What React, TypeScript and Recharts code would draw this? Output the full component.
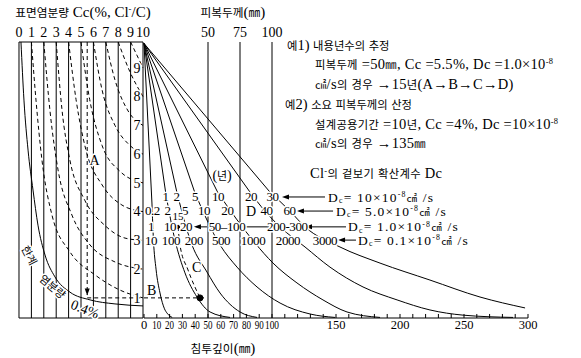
import React from "react";
import { ComposedChart, Line, XAxis, YAxis, ReferenceLine, ReferenceDot } from "recharts";

type Pair = [number, number];

// top scale of the left panel: surface chloride Cc (%)
const ccTicks = [0, 1, 2, 3, 4, 5, 6, 7, 8, 9, 10];
// scale along the right edge of the left panel
const levelTicks = [1, 2, 3, 4, 5, 6, 7, 8, 9];
// cover thickness (mm), drawn as full-height lines
const coverTicks = [50, 75, 100];
// penetration depth axis (mm)
const depthTicks = [
  0, 10, 20, 30, 40, 50, 60, 70, 80, 90, 100, 110, 120, 130, 140, 150, 160, 170, 180, 190, 200, 210,
  220, 230, 240, 250, 260, 270, 280, 290, 300,
];
const depthLabels = [0, 10, 20, 30, 40, 50, 60, 70, 80, 90, 100, 150, 200, 250, 300];

// 한계 염분량 0.4% curve (Cc, level)
const limitCurve: Pair[] = [
  [0.16, 9.9], [0.4, 7.88], [0.73, 6.14], [1.13, 4.75], [1.53, 3.53], [2.1, 2.49],
  [2.9, 1.73], [4.11, 1.2], [5.73, 0.93], [7.74, 0.79], [10, 0.72],
];

// dashed curves from each Cc on top to the same value on the right scale
const ccCurve1: Pair[] = [[1, 9.9], [1.37, 7.88], [1.85, 5.8], [2.66, 3.88], [4.11, 2.6], [6.13, 1.8], [8.15, 1.27], [10, 1]];
const ccCurve2: Pair[] = [[2, 9.9], [2.5, 7.5], [3.15, 5.45], [4.27, 3.88], [5.73, 2.84], [7.74, 2.25], [10, 2]];
const ccCurve3: Pair[] = [[3, 9.9], [3.47, 7.53], [4.1, 5.8], [5.3, 4.4], [6.9, 3.53], [8.55, 3.08], [10, 3]];
const ccCurve4: Pair[] = [[4, 9.9], [4.6, 7.9], [5.4, 6.14], [6.7, 4.93], [8.3, 4.23], [10, 4]];
const ccCurve5: Pair[] = [[5, 9.9], [5.7, 7.9], [6.7, 6.3], [8.15, 5.4], [10, 5]];
const ccCurve6: Pair[] = [[6, 9.9], [6.7, 8.23], [7.74, 7.0], [8.95, 6.3], [10, 6]];
const ccCurve7: Pair[] = [[7, 9.9], [7.74, 8.58], [8.8, 7.5], [10, 7]];
const ccCurve8: Pair[] = [[8, 9.9], [8.95, 8.86], [10, 8]];
const ccCurve9: Pair[] = [[9, 9.9], [10, 9]];
const ccCurves = [ccCurve1, ccCurve2, ccCurve3, ccCurve4, ccCurve5, ccCurve6, ccCurve7, ccCurve8, ccCurve9];

// depth profiles start from the pivot at Cc = 10 (depth mm, level)
const pivot: Pair = [0, 9.85];
const profile1: Pair[] = [[6.2, 4.3], [7.4, 3.0], [9.4, 2.0], [12.5, 1.17], [16, 0.62], [18, 0.47], [22, 0.32]];
const profile10: Pair[] = [[17.2, 4.58], [24.2, 3.01], [32, 1.87], [41.4, 1.03], [51.6, 0.51], [67.2, 0.32]];
const profile20: Pair[] = [[25.8, 4.65], [37.5, 2.84], [49.2, 1.9], [59.4, 1.17], [75, 0.51], [88.3, 0.32]];
const profile50: Pair[] = [[39.8, 4.65], [59.4, 2.84], [72.7, 2.07], [88.3, 1.38], [106.3, 0.82], [129.7, 0.44], [149.2, 0.32]];
const profile100: Pair[] = [[57.8, 4.65], [86.7, 2.91], [100.8, 2.21], [119.5, 1.52], [139.8, 0.93], [158.6, 0.51], [184.4, 0.32]];
const profile200: Pair[] = [
  [82.8, 4.68], [94.5, 4.02], [106.3, 3.47], [125.8, 2.77], [145.3, 2.07], [171.1, 1.38],
  [197.7, 0.93], [223.4, 0.58], [249.2, 0.4], [288.3, 0.32],
];
const profile300: Pair[] = [
  [98.4, 4.68], [114, 4.02], [125.8, 3.47], [153.1, 2.77], [184.4, 2.21], [223.4, 1.62], [262.5, 1.03], [297.7, 0.65],
];
const profiles = [profile1, profile10, profile20, profile50, profile100, profile200, profile300];
// example: 15 years at Dc = 1.0
const profile15: Pair[] = [[26.6, 3.47], [28.1, 2.84], [34.4, 1.97], [43.75, 1.0]];

// year labels on the four Dc rows (label, depth)
const rowLevels = [4.51, 4.02, 3.47, 3.01];
const yearsDc10: [string, number][] = [["1", 16.8], ["2", 25.4], ["5", 39.8], ["10", 57.8], ["20", 83.6], ["30", 100.4]];
const yearsDc5: [string, number][] = [["0.2", 6.6], ["2", 18.4], ["5", 32], ["10", 46.9], ["20", 65.2], ["40", 95.7], ["60", 113.7]];
const yearsDc1: [string, number][] = [["1", 5.5], ["10", 20.3], ["20", 32.8], ["50–100", 64.8], ["200-300", 112]];
const yearsDc01: [string, number][] = [["10", 5.5], ["100", 21.1], ["200", 39], ["500", 60.2], ["1000", 85.2], ["2000", 112.5], ["3000", 141.4]];
const yearRows = [yearsDc10, yearsDc5, yearsDc1, yearsDc01];
const dcLabels = ["D_{c}= 10×10^{-8}㎠ /s", "D_{c}= 5.0×10^{-8}㎠ /s", "D_{c}= 1.0×10^{-8}㎠ /s", "D_{c}= 0.1×10^{-8}㎠ /s"];
const dcLabelDepth = [143.75, 150, 159.4, 167.2];
const dcArrows: Pair[] = [[141.4, 107.8], [147.7, 119.5], [157.8, 125.8], [165.6, 151.6]];

// worked example A -> B -> C
const exampleCc = 5.5;
const exampleLevel = 1;
const exampleDepth = 43.75;

// axis frame values
const levelBottom = 0.3;
const levelTop = 9.9;

const FONT = "'Liberation Serif', 'Noto Sans CJK KR', serif";
const HANGUL = /([\u3130-\u318F\uAC00-\uD7A3\u3380-\u33FF]+)/;
const MARK = /(\^\{[^}]*\}|_\{[^}]*\})/;

const toPts = (a: Pair[]) => a.map(([x, y]) => ({ x, y }));

// splits text into tspans: hangul a bit smaller, ^{..} superscript, _{..} subscript
function richText(str: string, fs: number) {
  const out: React.ReactNode[] = [];
  let shift = 0;
  let k = 0;
  for (const part of str.split(MARK)) {
    if (!part) continue;
    const m = part.match(/^([\^_])\{([^}]*)\}$/);
    if (m) {
      const target = m[1] === "^" ? -fs * 0.36 : fs * 0.12;
      out.push(
        <tspan key={k++} dy={target - shift} fontSize={fs * 0.58}>
          {m[2]}
        </tspan>
      );
      shift = target;
      continue;
    }
    for (const run of part.split(HANGUL)) {
      if (!run) continue;
      const ko = HANGUL.test(run);
      out.push(
        <tspan key={k++} dy={-shift} fontSize={ko ? fs * 0.78 : fs}>
          {run}
        </tspan>
      );
      shift = 0;
    }
  }
  return out;
}

type TextOpts = {
  size?: number;
  anchor?: "start" | "middle" | "end";
  rotate?: number;
  halo?: boolean;
  spacing?: number;
  len?: number;
};

function textMark(key: string, axis: "d" | "cc", x: number, y: number, str: string, o: TextOpts = {}) {
  const fs = o.size ?? 14;
  return (
    <ReferenceDot
      key={key}
      xAxisId={axis}
      x={x}
      y={y}
      r={0}
      ifOverflow="visible"
      isFront
      shape={(p: any) => (
        <text
          x={p.cx}
          y={p.cy + fs * 0.34}
          textAnchor={o.anchor ?? "middle"}
          fontFamily={FONT}
          fontSize={fs}
          fill="#000"
          letterSpacing={o.spacing}
          textLength={o.len}
          lengthAdjust={o.len ? "spacingAndGlyphs" : undefined}
          stroke={o.halo ? "#fff" : undefined}
          strokeWidth={o.halo ? 3 : undefined}
          strokeLinejoin="round"
          style={{ whiteSpace: "pre", paintOrder: "stroke" }}
          transform={o.rotate ? `rotate(${o.rotate} ${p.cx} ${p.cy})` : undefined}
        >
          {richText(str, fs)}
        </text>
      )}
    />
  );
}

function arrowHead(key: string, axis: "d" | "cc", x: number, y: number, dir: "left" | "down") {
  return (
    <ReferenceDot
      key={key}
      xAxisId={axis}
      x={x}
      y={y}
      r={0}
      ifOverflow="visible"
      isFront
      shape={(p: any) =>
        dir === "left" ? (
          <polygon points={`${p.cx},${p.cy} ${p.cx + 7},${p.cy - 2.5} ${p.cx + 7},${p.cy + 2.5}`} fill="#000" />
        ) : (
          <polygon points={`${p.cx},${p.cy} ${p.cx - 2.5},${p.cy - 7} ${p.cx + 2.5},${p.cy - 7}`} fill="#000" />
        )
      }
    />
  );
}

const lineProps = {
  stroke: "#000",
  strokeWidth: 1,
  dot: false,
  activeDot: false,
  isAnimationActive: false,
  dataKey: "y",
} as const;

const depthLabelLength = (t: number) => (t > 0 && t < 100 ? 9 : t === 100 ? 14 : undefined);

export default function App() {
  return (
    <div style={{ position: "absolute", left: 0, top: 0, width: 581, height: 358, background: "#fff" }}>
      <ComposedChart width={581} height={358} margin={{ top: 0, right: 0, bottom: 0, left: 0 }}>
        {/* axes span the whole drawing; the frame is drawn with reference lines */}
        <XAxis xAxisId="d" type="number" dataKey="x" domain={[-112.5, 341.4]} hide />
        <XAxis xAxisId="cc" type="number" dataKey="x" domain={[-1.532, 45.32]} hide />
        <YAxis type="number" domain={[-1.091, 11.361]} hide />

        {/* left panel frame and Cc verticals */}
        {ccTicks.map((c) => (
          <ReferenceLine
            key={`v${c}`}
            xAxisId="cc"
            segment={[{ x: c, y: levelBottom }, { x: c, y: levelTop }]}
            stroke="#000"
          />
        ))}
        <ReferenceLine xAxisId="cc" segment={[{ x: 0, y: levelTop }, { x: 10, y: levelTop }]} stroke="#000" />
        <ReferenceLine xAxisId="cc" segment={[{ x: 0, y: levelBottom }, { x: 10, y: levelBottom }]} stroke="#000" />
        {coverTicks.map((c) => (
          <ReferenceLine
            key={`cv${c}`}
            xAxisId="d"
            segment={[{ x: c, y: levelBottom }, { x: c, y: levelTop }]}
            stroke="#000"
          />
        ))}

        {/* depth axis */}
        <ReferenceLine xAxisId="d" segment={[{ x: 0, y: levelBottom }, { x: 300, y: levelBottom }]} stroke="#000" />
        {depthTicks.map((t) => (
          <ReferenceLine
            key={`dt${t}`}
            xAxisId="d"
            segment={[{ x: t, y: levelBottom }, { x: t, y: levelBottom + 0.14 }]}
            stroke="#000"
          />
        ))}

        <Line xAxisId="cc" data={toPts(limitCurve)} type="monotoneX" {...lineProps} />
        {ccCurves.map((c, i) => (
          <Line key={`cc${i}`} xAxisId="cc" data={toPts(c)} type="monotoneX" strokeDasharray="4 3" {...lineProps} />
        ))}

        {profiles.map((p, i) => (
          <Line key={`fan${i}`} xAxisId="d" data={toPts([pivot, p[0]])} type="linear" {...lineProps} />
        ))}
        {profiles.map((p, i) => (
          <Line key={`pr${i}`} xAxisId="d" data={toPts(p)} type="monotoneX" {...lineProps} />
        ))}
        <Line xAxisId="d" data={toPts(profile15)} type="monotoneX" strokeDasharray="4 3" {...lineProps} />

        {/* worked example path */}
        <ReferenceLine
          xAxisId="cc"
          segment={[{ x: exampleCc, y: levelTop }, { x: exampleCc, y: exampleLevel + 0.1 }]}
          stroke="#000"
          strokeDasharray="4 3"
        />
        <ReferenceLine
          xAxisId="cc"
          segment={[{ x: exampleCc, y: exampleLevel }, { x: 10, y: exampleLevel }]}
          stroke="#000"
          strokeDasharray="4 3"
        />
        <ReferenceLine
          xAxisId="d"
          segment={[{ x: 0, y: exampleLevel }, { x: 49, y: exampleLevel }]}
          stroke="#000"
          strokeDasharray="4 3"
        />
        {arrowHead("ad", "cc", exampleCc, exampleLevel + 0.08, "down")}
        <ReferenceDot xAxisId="d" x={exampleDepth} y={exampleLevel} r={3} fill="#000" stroke="#000" isFront />
        <ReferenceDot xAxisId="d" x={26.6} y={3.47} r={1.6} fill="#000" stroke="#000" isFront />

        {/* row arrows and connectors */}
        {dcArrows.map(([from, to], i) => (
          <ReferenceLine
            key={`ar${i}`}
            xAxisId="d"
            segment={[{ x: from, y: rowLevels[i] }, { x: to + 3, y: rowLevels[i] }]}
            stroke="#000"
          />
        ))}
        {dcArrows.map(([, to], i) => arrowHead(`ah${i}`, "d", to, rowLevels[i], "left"))}
        <ReferenceLine xAxisId="d" segment={[{ x: 49.2, y: rowLevels[2] }, { x: 41, y: rowLevels[2] }]} stroke="#000" />
        {arrowHead("ah20", "d", 39, rowLevels[2], "left")}
        <ReferenceLine xAxisId="d" segment={[{ x: 79.7, y: rowLevels[2] }, { x: 97.7, y: rowLevels[2] }]} stroke="#000" />

        {/* text */}
        {textMark("t1", "cc", 5.16, 10.94, "표면염분량 Cc(%, Cl^{-}/C)", { size: 15 })}
        {textMark("t2", "d", 69.5, 10.94, "피복두께(㎜)", { size: 15 })}
        {textMark("t3", "d", 61.7, -0.74, "침투깊이(㎜)", { size: 15 })}
        {ccTicks.map((c) => textMark(`cct${c}`, "cc", c, 10.25, String(c)))}
        {coverTicks.map((c) => textMark(`cvt${c}`, "d", c, 10.25, String(c)))}
        {levelTicks.map((l) => textMark(`lv${l}`, "cc", 9.52, l, String(l), { halo: true }))}
        {depthLabels.map((t) => textMark(`dl${t}`, "d", t, 0.06, String(t), { size: 12.5, len: depthLabelLength(t) }))}

        {textMark("e1", "d", 111.7, 9.8, "예1) 내용년수의 추정", { anchor: "start", size: 14.5 })}
        {textMark("e2", "d", 133.6, 9.13, "피복두께 =50㎜, Cc =5.5%, Dc =1.0×10^{-8}", { anchor: "start", size: 14.5, spacing: 0.3 })}
        {textMark("e3", "d", 133.6, 8.44, "㎠/s의 경우 →15년(A→B→C→D)", { anchor: "start", size: 14.5, spacing: 0.3 })}
        {textMark("e4", "d", 110.2, 7.74, "예2) 소요 피복두께의 산정", { anchor: "start", size: 14.5 })}
        {textMark("e5", "d", 133.6, 7.05, "설계공용기간 =10년, Cc =4%, Dc =10×10^{-8}", { anchor: "start", size: 14.5, spacing: 0.3 })}
        {textMark("e6", "d", 133.6, 6.39, "㎠/s의 경우 →135㎜", { anchor: "start", size: 14.5, spacing: 0.3 })}
        {textMark("cl", "d", 129.7, 5.34, "Cl^{-}의 겉보기 확산계수 Dc", { anchor: "start", size: 14.5, spacing: 0.3 })}
        {textMark("yr", "d", 61, 5.27, "(년)", { halo: true })}

        {yearRows.map((row, r) =>
          row.map(([t, d], i) => textMark(`y${r}-${i}`, "d", d, rowLevels[r], t, { halo: true, size: 13, spacing: -0.4 }))
        )}
        {dcLabels.map((t, i) =>
          textMark(`dc${i}`, "d", dcLabelDepth[i], rowLevels[i], t, { anchor: "start", size: 13.5, spacing: 1.2 })
        )}
        {textMark("y15", "d", 26.6, 3.84, "15", { halo: true, size: 11 })}

        {textMark("A", "cc", 6.1, 5.8, "A", { halo: true })}
        {textMark("B", "d", 6.0, 1.27, "B", { halo: true })}
        {textMark("C", "d", 41.2, 2.08, "C", { halo: true })}
        {textMark("D", "d", 83.6, 4.0, "D", { halo: true })}

        {textMark("lim1", "cc", 0.89, 2.49, "한계", { rotate: 62, halo: true })}
        {textMark("lim2", "cc", 2.74, 1.41, "염분량", { rotate: 40, halo: true })}
        {textMark("lim3", "cc", 5.32, 0.61, "0.4%", { rotate: 22, halo: true })}
      </ComposedChart>
    </div>
  );
}
